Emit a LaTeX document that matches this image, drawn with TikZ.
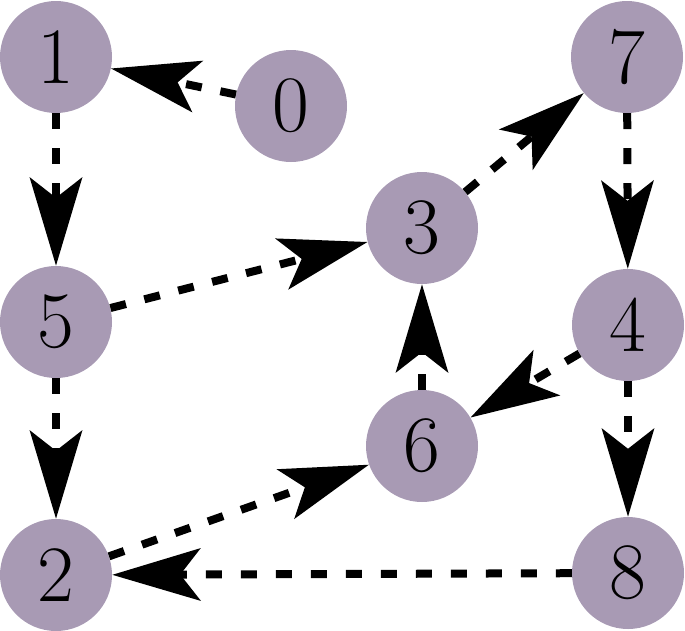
\documentclass[tikz,border=0pt]{standalone}
\usetikzlibrary{arrows.meta}
\definecolor{nodefill}{RGB}{168,154,180}
\begin{document}
\begin{tikzpicture}[x=1pt,y=-1pt,
  vtx/.style={circle,fill=nodefill,draw=none,minimum size=112pt,inner sep=0pt,font=\fontsize{80}{80}\selectfont},
  edge/.style={line width=8pt,dash pattern=on 16pt off 19pt,-{Stealth[length=88pt,width=52pt,inset=20pt]}}]
\useasboundingbox (0,0) rectangle (685,630);
\node[vtx] (n1) at (56,57) {1};
\node[vtx] (n0) at (291,106) {0};
\node[vtx] (n7) at (627,57) {7};
\node[vtx] (n3) at (422,228) {3};
\node[vtx] (n5) at (56,322) {5};
\node[vtx] (n4) at (628,325) {4};
\node[vtx] (n6) at (422,446) {6};
\node[vtx] (n2) at (56,575) {2};
\node[vtx] (n8) at (628,573) {8};
\draw[edge] (n0) -- (n1);
\draw[edge] (n1) -- (n5);
\draw[edge] (n5) -- (n3);
\draw[edge] (n5) -- (n2);
\draw[edge] (n3) -- (n7);
\draw[edge] (n7) -- (n4);
\draw[edge] (n4) -- (n6);
\draw[edge] (n4) -- (n8);
\draw[edge] (n6) -- (n3);
\draw[edge] (n2) -- (n6);
\draw[edge] (n8) -- (n2);
\end{tikzpicture}
\end{document}
